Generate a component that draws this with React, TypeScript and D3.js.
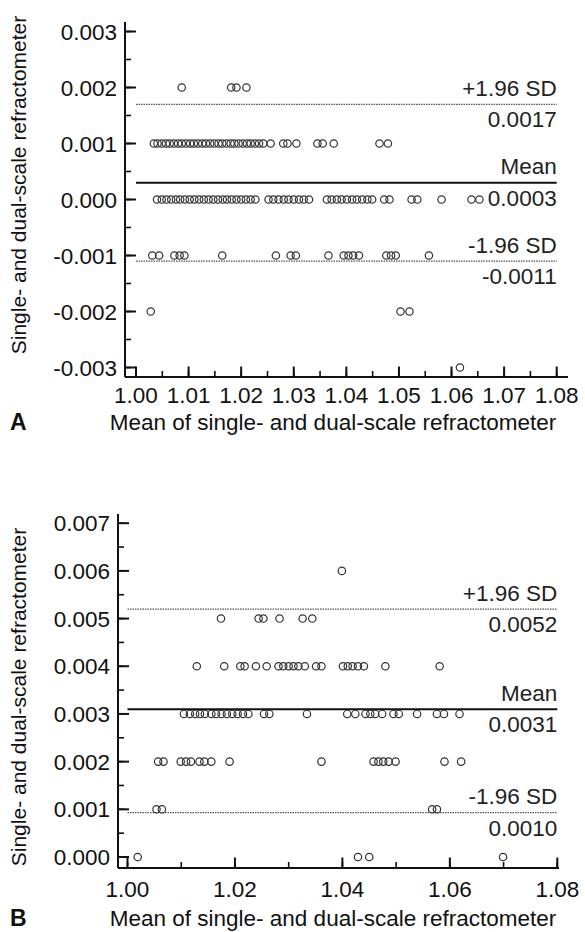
import React from 'react';
import * as d3 from 'd3';

// ---------- panel A (x = mean, rows grouped by difference) ----------
const aLevels = [0.002, 0.001, 0, -0.001, -0.002, -0.003];
const aRowP2 = [1.0087, 1.0181, 1.0191, 1.021];
const aRowP1 = [
  1.0034, 1.0041, 1.0049, 1.0057, 1.0064, 1.0072, 1.008, 1.0087, 1.0095, 1.0103,
  1.011, 1.0118, 1.0126, 1.0133, 1.0141, 1.0149, 1.0157, 1.0164, 1.0172, 1.018,
  1.0187, 1.0195, 1.0203, 1.0211, 1.0218, 1.0226, 1.0234, 1.0242, 1.0256,
  1.028, 1.0288, 1.0305, 1.0345, 1.0355, 1.0376, 1.0463, 1.0479,
];
const aRow0 = [
  1.004, 1.0049, 1.0058, 1.0067, 1.0076, 1.0084, 1.0093, 1.0102, 1.0111, 1.012,
  1.0129, 1.0138, 1.0147, 1.0156, 1.0165, 1.0173, 1.0182, 1.0191, 1.02, 1.0209,
  1.0218, 1.0227,
  1.0252, 1.0261, 1.0271, 1.0281, 1.029, 1.03, 1.031, 1.0319, 1.0329,
  1.0363, 1.0372, 1.0382, 1.0391, 1.0401, 1.0411, 1.042, 1.043, 1.044, 1.0449,
  1.0472, 1.0482, 1.0524, 1.0535, 1.0581, 1.0638, 1.0653,
];
const aRowM1 = [
  1.0031, 1.0044, 1.0073, 1.0083, 1.0092, 1.0164, 1.0266, 1.0294, 1.0304, 1.0366,
  1.0395, 1.0404, 1.0413, 1.0424, 1.0476, 1.0485, 1.0494, 1.0557,
];
const aRowM2 = [1.0028, 1.0503, 1.052];
const aRowM3 = [1.0616];
const aRows = [aRowP2, aRowP1, aRow0, aRowM1, aRowM2, aRowM3];
const aLines = [0.0017, 0.0003, -0.0011];
const aLineTop = ['+1.96 SD', 'Mean', '-1.96 SD'];
const aLineBottom = ['0.0017', '0.0003', '-0.0011'];

// ---------- panel B ----------
const bLevels = [0.006, 0.005, 0.004, 0.003, 0.002, 0.001, 0];
const bRow6 = [1.0399];
const bRow5 = [1.0174, 1.0244, 1.0253, 1.0283, 1.0326, 1.0344];
const bRow4 = [
  1.0129, 1.018, 1.021, 1.0218, 1.0239, 1.0259, 1.0281, 1.029, 1.03, 1.0309,
  1.0318, 1.033, 1.0351, 1.0361, 1.0401, 1.041, 1.0419, 1.0429, 1.044, 1.048, 1.0581,
];
const bRow3 = [
  1.0105, 1.0116, 1.0126, 1.0135, 1.0144, 1.0156, 1.0165, 1.0175, 1.0185, 1.0195,
  1.0205, 1.0215, 1.0225, 1.0254, 1.0264, 1.0334, 1.0409, 1.0424, 1.0443, 1.0452,
  1.0461, 1.0474, 1.0495, 1.0505, 1.0539, 1.0576, 1.0589, 1.0618,
];
const bRow2 = [
  1.0057, 1.0067, 1.0099, 1.0109, 1.0118, 1.0134, 1.0143, 1.0156, 1.019, 1.0361,
  1.0458, 1.0467, 1.0476, 1.0486, 1.0499, 1.059, 1.0621,
];
const bRow1 = [1.0054, 1.0064, 1.0567, 1.0576];
const bRow0 = [1.0019, 1.0429, 1.045, 1.0699];
const bRows = [bRow6, bRow5, bRow4, bRow3, bRow2, bRow1, bRow0];
const bLines = [0.0052, 0.0031, 0.00093];
const bLineTop = ['+1.96 SD', 'Mean', '-1.96 SD'];
const bLineBottom = ['0.0052', '0.0031', '0.0010'];

const xTitle = 'Mean of single- and dual-scale refractometer';
const yTitle = 'Single- and dual-scale refractometer';
const FONT = '"Liberation Sans", Arial, sans-serif';

type PanelProps = {
  x: d3.ScaleLinear<number, number>;
  y: d3.ScaleLinear<number, number>;
  levels: number[];
  rows: number[][];
  lines: number[];
  topLabels: string[];
  bottomLabels: string[];
  xMajor: number[];
  xMinor: number[];
  yMajor: number[];
  yMinor: number[];
  axisX: number;
  axisY: number;
  yTop: number;
  xEnd: number;
  xLabelY: number;
  titleY: number;
  yTitleY: number;
  letter: string;
};

function Panel(p: PanelProps) {
  const [x0, x1] = p.x.range();
  return (
    <g>
      {/* reference lines */}
      {p.lines.map((v, i) => (
        <g key={'l' + i}>
          <line
            x1={x0} x2={x1} y1={p.y(v)} y2={p.y(v)}
            stroke={i === 1 ? '#111' : '#555'}
            strokeWidth={i === 1 ? 2 : 1.3}
            strokeDasharray={i === 1 ? undefined : '1.5,1'}
          />
          <text x={x1} y={p.y(v) - 8.5} textAnchor="end" fontSize={22.5} fill="#222">{p.topLabels[i]}</text>
          <text x={x1} y={p.y(v) + 23} textAnchor="end" fontSize={22.5} fill="#222">{p.bottomLabels[i]}</text>
        </g>
      ))}

      {/* points */}
      {p.rows.map((row, i) =>
        row.map((m, j) => (
          <circle key={i + '-' + j} cx={p.x(m)} cy={p.y(p.levels[i])} r={3.7}
            fill="none" stroke="#333" strokeWidth={1.2} />
        ))
      )}

      {/* axes */}
      <line x1={p.axisX} x2={p.axisX} y1={p.yTop} y2={p.axisY} stroke="#111" strokeWidth={2} />
      <line x1={p.axisX} x2={p.xEnd} y1={p.axisY} y2={p.axisY} stroke="#111" strokeWidth={2} />
      {p.yMinor.map((t) => (
        <line key={'ym' + t} x1={p.axisX} x2={p.axisX + 6} y1={p.y(t)} y2={p.y(t)} stroke="#111" strokeWidth={1.6} />
      ))}
      {p.yMajor.map((t) => (
        <g key={'yM' + t}>
          <line x1={p.axisX} x2={p.axisX + 11} y1={p.y(t)} y2={p.y(t)} stroke="#111" strokeWidth={2} />
          <text x={p.axisX - 8} y={p.y(t) + 8} textAnchor="end" fontSize={22.5} fill="#111">{t.toFixed(3)}</text>
        </g>
      ))}
      {p.xMinor.map((t) => (
        <line key={'xm' + t} x1={p.x(t)} x2={p.x(t)} y1={p.axisY} y2={p.axisY - 6} stroke="#111" strokeWidth={1.6} />
      ))}
      {p.xMajor.map((t) => (
        <g key={'xM' + t}>
          <line x1={p.x(t)} x2={p.x(t)} y1={p.axisY} y2={p.axisY - 10.5} stroke="#111" strokeWidth={2} />
          <text x={p.x(t)} y={p.xLabelY} textAnchor="middle" fontSize={22.5} fill="#111">{t.toFixed(2)}</text>
        </g>
      ))}

      {/* titles */}
      <text x={333} y={p.titleY} textAnchor="middle" fontSize={22.5} fill="#111">{xTitle}</text>
      <text transform={`translate(26,${p.yTitleY}) rotate(-90)`} textAnchor="middle" fontSize={21} fill="#111">{yTitle}</text>
      <text x={10} y={p.titleY} fontSize={23} fontWeight="bold" fill="#111">{p.letter}</text>
    </g>
  );
}

export default function App() {
  const xA = d3.scaleLinear().domain([1.0, 1.08]).range([136, 556.7]);
  const yA = d3.scaleLinear().domain([-0.003, 0.003]).range([367.5, 31.5]);
  const xB = d3.scaleLinear().domain([1.0, 1.08]).range([127.5, 557.3]);
  const yB = d3.scaleLinear().domain([0, 0.007]).range([857, 523.2]);

  return (
    <svg width={585} height={932} style={{ position: 'absolute', left: 0, top: 0, background: '#fff' }}
      fontFamily={FONT}>
      <Panel
        x={xA} y={yA} levels={aLevels} rows={aRows} lines={aLines}
        topLabels={aLineTop} bottomLabels={aLineBottom}
        xMajor={xA.ticks(8)} xMinor={xA.ticks(16)}
        yMajor={yA.ticks(6)} yMinor={yA.ticks(12)}
        axisX={125} axisY={377} yTop={22} xEnd={568}
        xLabelY={403} titleY={430} yTitleY={185} letter="A"
      />
      <Panel
        x={xB} y={yB} levels={bLevels} rows={bRows} lines={bLines}
        topLabels={bLineTop} bottomLabels={bLineBottom}
        xMajor={xB.ticks(4)} xMinor={xB.ticks(8)}
        yMajor={yB.ticks(7)} yMinor={yB.ticks(14)}
        axisX={118} axisY={868} yTop={514} xEnd={559}
        xLabelY={897} titleY={926} yTitleY={697} letter="B"
      />
    </svg>
  );
}
